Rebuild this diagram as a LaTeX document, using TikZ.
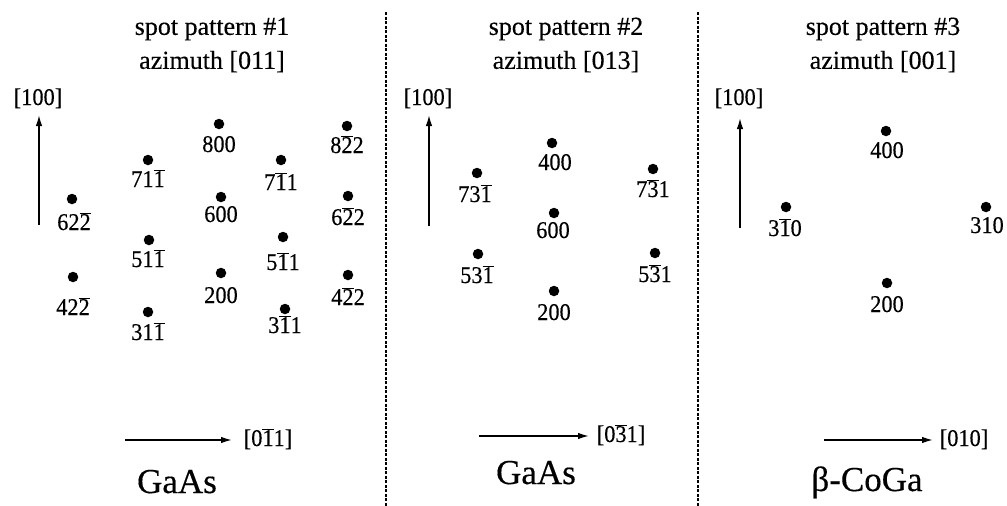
\documentclass[tikz,border=0pt]{standalone}
\usepackage{fontspec}
\setmainfont{Liberation Serif}[FakeBold=0.35]
\newfontfamily\lblfont{Liberation Serif}[FakeStretch=0.93,FakeBold=0.35]
\usetikzlibrary{arrows.meta}
\newcommand\ovb[1]{\ensuremath{\overline{\mbox{#1}}}}
\tikzset{
  spot/.style={circle,fill=black,inner sep=0pt,minimum size=10.5pt},
  lbl/.style={anchor=base,inner sep=0pt,font=\lblfont\fontsize{24}{27}\selectfont},
  ttl/.style={align=center,inner sep=0pt,font=\fontsize{26}{34}\selectfont},
  big/.style={anchor=base,inner sep=0pt,font=\fontsize{35}{40}\selectfont},
  arr/.style={line width=1.5pt,-{Latex[length=11pt,width=6.5pt]}},
  sep/.style={line width=1.5pt,dash pattern=on 3pt off 1.5pt}
}
\begin{document}
\begin{tikzpicture}[x=1pt,y=-1pt]
\useasboundingbox (0,0) rectangle (1007,506);
% separators
\coordinate (d1t) at (386,12); \coordinate (d1b) at (386,506);
\coordinate (d2t) at (698,12); \coordinate (d2b) at (698,506);
\draw[sep] (d1t) -- (d1b);
\draw[sep] (d2t) -- (d2b);
% titles
\node[ttl] (t1) at (212,45) {spot pattern \#1\\azimuth [011]};
\node[ttl] (t2) at (566,45) {spot pattern \#2\\azimuth [013]};
\node[ttl] (t3) at (883,45) {spot pattern \#3\\azimuth [001]};
% vertical axes
\coordinate (v1s) at (39,225); \coordinate (v1e) at (39,115);
\coordinate (v2s) at (429,226); \coordinate (v2e) at (429,115);
\coordinate (v3s) at (740,228); \coordinate (v3e) at (740,118);
\draw[arr] (v1s) -- (v1e);
\draw[arr] (v2s) -- (v2e);
\draw[arr] (v3s) -- (v3e);
\node[lbl] (v1l) at (38,105) {[100]};
\node[lbl] (v2l) at (428,105) {[100]};
\node[lbl] (v3l) at (739,105) {[100]};
% horizontal axes
\coordinate (h1s) at (125,440); \coordinate (h1e) at (232,440);
\coordinate (h2s) at (479,436); \coordinate (h2e) at (589,436);
\coordinate (h3s) at (824,440); \coordinate (h3e) at (933,440);
\draw[arr] (h1s) -- (h1e);
\draw[arr] (h2s) -- (h2e);
\draw[arr] (h3s) -- (h3e);
\node[lbl] (h1l) at (268,446) {[0\ovb{1}1]};
\node[lbl] (h2l) at (621,442) {[0\ovb{3}1]};
\node[lbl] (h3l) at (964,446) {[010]};
% materials
\node[big] (m1) at (177,493) {GaAs};
\node[big] (m2) at (536,484) {GaAs};
\node[big] (m3) at (867,491) {β-CoGa};
% panel 1 spots
\node[spot] (a1) at (72,199) {};  \node[lbl] (la1) at (74,230) {62\ovb{2}};
\node[spot] (a2) at (73,277) {};  \node[lbl] (la2) at (73,315) {42\ovb{2}};
\node[spot] (a3) at (148,160) {}; \node[lbl] (la3) at (148,187) {71\ovb{1}};
\node[spot] (a4) at (149,240) {}; \node[lbl] (la4) at (148,267) {51\ovb{1}};
\node[spot] (a5) at (148,312) {}; \node[lbl] (la5) at (148,340) {31\ovb{1}};
\node[spot] (a6) at (219,124) {}; \node[lbl] (la6) at (219,152) {800};
\node[spot] (a7) at (221,197) {}; \node[lbl] (la7) at (221,222) {600};
\node[spot] (a8) at (221,273) {}; \node[lbl] (la8) at (221,303) {200};
\node[spot] (a9) at (281,160) {}; \node[lbl] (la9) at (281,190) {7\ovb{1}1};
\node[spot] (a10) at (283,237) {}; \node[lbl] (la10) at (283,270) {5\ovb{1}1};
\node[spot] (a11) at (285,309) {}; \node[lbl] (la11) at (285,333) {3\ovb{1}1};
\node[spot] (a12) at (347,126) {}; \node[lbl] (la12) at (347,153) {8\ovb{2}2};
\node[spot] (a13) at (348,196) {}; \node[lbl] (la13) at (348,225) {6\ovb{2}2};
\node[spot] (a14) at (348,275) {}; \node[lbl] (la14) at (348,305) {4\ovb{2}2};
% panel 2 spots
\node[spot] (b1) at (552,143) {}; \node[lbl] (lb1) at (555,170) {400};
\node[spot] (b2) at (477,173) {}; \node[lbl] (lb2) at (475,202) {73\ovb{1}};
\node[spot] (b3) at (554,213) {}; \node[lbl] (lb3) at (553,238) {600};
\node[spot] (b4) at (478,254) {}; \node[lbl] (lb4) at (477,283) {53\ovb{1}};
\node[spot] (b5) at (554,291) {}; \node[lbl] (lb5) at (554,320) {200};
\node[spot] (b6) at (653,169) {}; \node[lbl] (lb6) at (653,197) {7\ovb{3}1};
\node[spot] (b7) at (655,253) {}; \node[lbl] (lb7) at (655,282) {5\ovb{3}1};
% panel 3 spots
\node[spot] (c1) at (886,131) {}; \node[lbl] (lc1) at (887,158) {400};
\node[spot] (c2) at (786,207) {}; \node[lbl] (lc2) at (785,236) {3\ovb{1}0};
\node[spot] (c3) at (986,207) {}; \node[lbl] (lc3) at (987,233) {310};
\node[spot] (c4) at (887,283) {}; \node[lbl] (lc4) at (887,312) {200};
\end{tikzpicture}
\end{document}
